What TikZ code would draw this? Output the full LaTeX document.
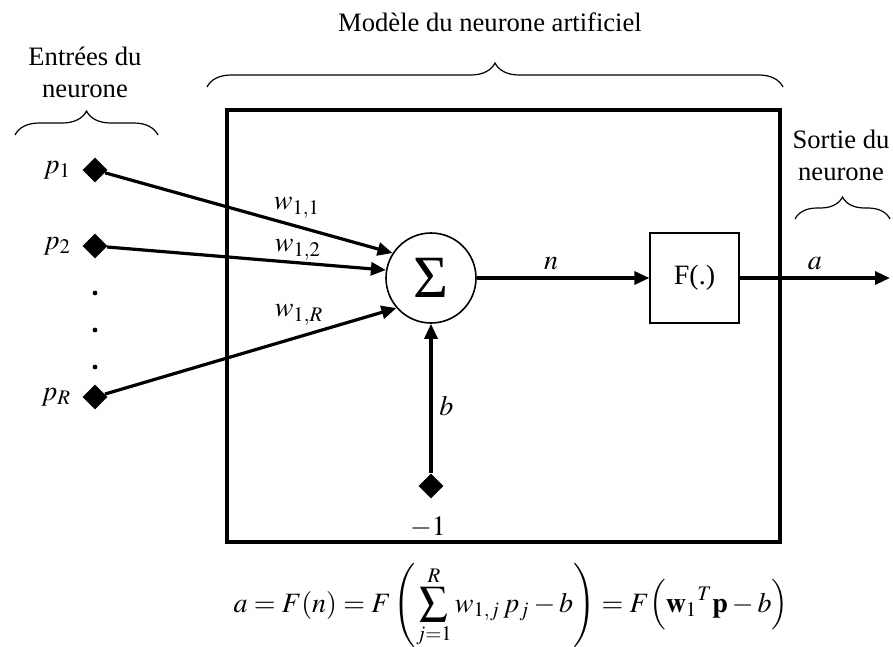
\documentclass[tikz,border=0pt]{standalone}
\usepackage{amsmath}
\usepackage{mathptmx}
\usepackage{fontspec}
\setmainfont{Liberation Serif}
\usetikzlibrary{positioning,shapes.geometric,decorations.pathreplacing,arrows.meta}

\begin{document}
\begin{tikzpicture}[x=0.5pt, y=-0.5pt, font=\fontsize{13.3}{16}\selectfont,
  entree/.style={diamond, fill=black, inner sep=0pt, minimum size=12.5pt},
  fleche/.style={line width=1.6pt, -{Triangle[length=7.5pt,width=6.5pt]}},
  accolade/.style={decorate, decoration={brace, amplitude=12pt}, line width=0.6pt},
  lbl/.style={font=\fontsize{14}{16}\selectfont}]
\useasboundingbox (0,0) rectangle (893,647);

% ================= titres et accolades =================
\node (titre) at (490,22) {Modèle du neurone artificiel};
\draw[accolade] (207,87) -- (783,87);
\node[align=center] (entrees) at (85,72) {Entrées du\\neurone};
\draw[accolade] (15,135) -- (158,135);
\node[align=center] (sortie) at (841,155) {Sortie du\\neurone};
\draw[accolade, decoration={amplitude=11pt}] (795,219) -- (890,219);

% ================= cadre du neurone =================
\node[draw, line width=2pt, minimum width=276.5pt, minimum height=216pt, inner sep=0pt] (modele) at (503.5,326) {};

% ================= entrees =================
\node[entree] (p1) at (95,170) {};
\node[entree] (p2) at (95,246) {};
\node[entree] (pR) at (95,397) {};
\node[lbl, left=2pt of p1] (lp1) {$p_1$};
\node[lbl, left=2pt of p2] (lp2) {$p_2$};
\node[lbl, left=2pt of pR] (lpR) {$p_R$};
\fill (95,293) circle (1.2pt);
\fill (95,330) circle (1.2pt);
\fill (95,367) circle (1.2pt);

% sommateur et fonction d'activation
\node[draw, circle, minimum size=45pt, inner sep=0pt, line width=0.8pt] (sum) at (431,278) {\fontsize{30}{30}\selectfont Σ};
\node[draw, minimum width=44.5pt, minimum height=45pt, line width=0.6pt, font=\fontsize{14}{16}\selectfont] (act) at (694.5,278) {F(.)};

% poids
\draw[fleche] (p1) -- (sum.147);
\draw[fleche] (p2) -- (sum.170);
\draw[fleche] (pR) -- (sum.221);
\node[lbl] (w11) at (297,208) {$w_{1,1}$};
\node[lbl] (w12) at (298,250) {$w_{1,2}$};
\node[lbl] (w1R) at (299,315) {$w_{1,R}$};

% biais
\node[entree] (bias) at (431,486) {};
\node[lbl] (moins) at (428,527) {$-1$};
\draw[fleche] (bias) -- (sum) node[lbl, pos=0.45, right] {$b$};

% sortie
\coordinate (fin) at (890,278);
\draw[fleche] (sum) -- (act) node[lbl, pos=0.43, above] {$n$};
\draw[fleche] (act) -- (fin) node[lbl, pos=0.5, above] {$a$};

% ================= equation =================
\node[anchor=base, lbl] (eq) at (511,612)
 {$\displaystyle a = F(n) = F\left(\sum_{j=1}^{R} w_{1,j}\,p_j - b\right) = F\Big(\mathbf{w}_1{}^{T}\mathbf{p} - b\Big)$};
\end{tikzpicture}
\end{document}
